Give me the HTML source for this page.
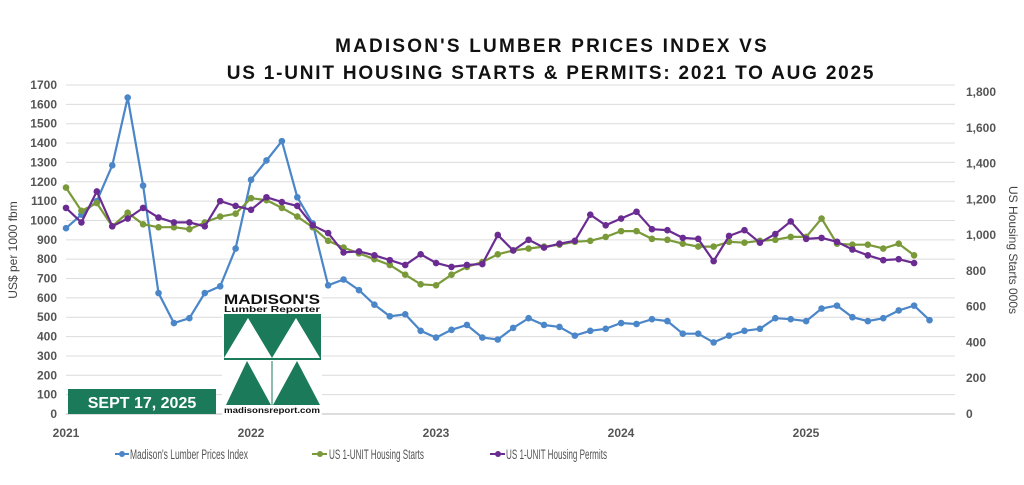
<!DOCTYPE html>
<html><head><meta charset="utf-8"><style>
body{margin:0;background:#fff;width:1024px;height:480px;overflow:hidden;font-family:"Liberation Sans",sans-serif}
</style></head><body>
<svg id="c" width="1024" height="480" xmlns="http://www.w3.org/2000/svg" font-family="Liberation Sans, sans-serif">
<text x="552" y="52" text-anchor="middle" font-size="19" font-weight="bold" letter-spacing="2.2" fill="#111">MADISON'S LUMBER PRICES INDEX VS</text>
<text x="551" y="79" text-anchor="middle" font-size="19" font-weight="bold" letter-spacing="1.8" fill="#111">US 1-UNIT HOUSING STARTS &amp; PERMITS: 2021 TO AUG 2025</text>
<g id="grid"></g>
<text transform="translate(17,250) rotate(-90)" text-anchor="middle" font-size="12" fill="#444">US$ per 1000 fbm</text>
<text transform="translate(1009,250) rotate(90)" text-anchor="middle" font-size="12" fill="#444">US Housing Starts 000s</text>
<g id="series"></g>
<!-- logo -->
<rect x="222" y="292" width="100" height="123" fill="#fff"/>
<text x="224" y="304" font-size="14" font-weight="bold" fill="#111" textLength="96" lengthAdjust="spacingAndGlyphs">MADISON'S</text>
<text x="224" y="312" font-size="8" font-weight="bold" fill="#111" textLength="96" lengthAdjust="spacingAndGlyphs">Lumber Reporter</text>
<rect x="224" y="314" width="97" height="46" fill="#1a7a5a"/>
<polygon points="224,358 248,318 272,358" fill="#fff"/>
<polygon points="272,358 296,318 320,358" fill="#fff"/>
<polygon points="226,405 247,361 271,405" fill="#1a7a5a"/>
<polygon points="273,405 297,361 320,405" fill="#1a7a5a"/>
<line x1="272" y1="361" x2="272" y2="405" stroke="#1a7a5a" stroke-width="1"/>
<text x="224" y="413" font-size="8" font-weight="bold" fill="#111" textLength="96" lengthAdjust="spacingAndGlyphs">madisonsreport.com</text>
<rect x="68" y="389" width="148" height="25" fill="#1a7a5a"/>
<text x="142" y="408" text-anchor="middle" font-size="16" font-weight="bold" fill="#fff">SEPT 17, 2025</text>
<g id="legend" font-size="13.5" fill="#555">
<line x1="115" y1="454" x2="129" y2="454" stroke="#4a86c8" stroke-width="2"/><circle cx="122" cy="454" r="3" fill="#4a86c8"/>
<text x="130" y="459" textLength="118" lengthAdjust="spacingAndGlyphs">Madison's Lumber Prices Index</text>
<line x1="312" y1="454" x2="327" y2="454" stroke="#7a9a3a" stroke-width="2"/><circle cx="320" cy="454" r="3" fill="#7a9a3a"/>
<text x="329" y="459" textLength="95" lengthAdjust="spacingAndGlyphs">US 1-UNIT Housing Starts</text>
<line x1="490" y1="454" x2="505" y2="454" stroke="#6a2c91" stroke-width="2"/><circle cx="498" cy="454" r="3" fill="#6a2c91"/>
<text x="506" y="459" textLength="101" lengthAdjust="spacingAndGlyphs">US 1-UNIT Housing Permits</text>
</g>
</svg>
<script>
var NS="http://www.w3.org/2000/svg";
function el(p,t,a,txt){var e=document.createElementNS(NS,t);for(var k in a)e.setAttribute(k,a[k]);if(txt!=null)e.textContent=txt;document.getElementById(p).appendChild(e);return e;}
var y0=414,ppu=(414-85)/1700;
function Y(v){return y0-v*ppu;}
for(var v=0;v<=1700;v+=100){
 if(v>0)el("grid","line",{x1:66,x2:955,y1:Y(v),y2:Y(v),stroke:"#dcdcdc","stroke-width":1});
 el("grid","text",{x:57,y:Y(v)+4,"text-anchor":"end","font-size":12,"font-weight":"bold",fill:"#555"},v);
}
el("grid","line",{x1:66,x2:955,y1:414,y2:414,stroke:"#bbb","stroke-width":1});
var rp=(414-92)/1800;
for(var r=0;r<=1800;r+=200){
 el("grid","text",{x:966,y:414-r*rp+4,"font-size":12,"font-weight":"bold",fill:"#555"},r==0?"0":r.toLocaleString("en-US"));
}
var yrs=["2021","2022","2023","2024","2025"];
for(var i=0;i<5;i++)el("grid","text",{x:66+i*185,y:437,"text-anchor":"middle","font-size":12,"font-weight":"bold",fill:"#555"},yrs[i]);
var blue=[960,1030,1100,1285,1635,1180,625,470,495,625,660,855,1210,1310,1410,1120,985,665,695,640,565,505,515,430,395,435,460,395,385,445,495,460,450,405,430,440,470,465,490,480,415,415,370,405,430,440,495,490,480,545,560,500,480,495,535,560,485];
var green=[1170,1050,1090,970,1040,980,965,965,955,990,1020,1035,1115,1105,1065,1020,965,895,860,830,800,770,720,670,665,720,760,785,825,845,855,865,875,890,895,915,945,945,905,900,880,865,865,890,885,895,900,915,915,1010,880,875,875,855,880,820];
var purp=[1065,990,1150,970,1010,1065,1015,990,990,970,1100,1075,1055,1120,1095,1075,975,935,835,840,820,795,770,825,780,760,770,775,925,845,900,860,880,895,1030,975,1010,1045,955,950,910,905,790,920,950,885,930,995,905,910,890,850,820,795,800,780];
function draw(d,c){var pts=d.map(function(v,i){return (66+i*15.42).toFixed(1)+","+Y(v).toFixed(1)}).join(" ");
 el("series","polyline",{points:pts,fill:"none",stroke:c,"stroke-width":2.2});
 d.forEach(function(v,i){el("series","circle",{cx:66+i*15.42,cy:Y(v),r:3.3,fill:c});});}
draw(blue,"#4a86c8");draw(green,"#7a9a3a");draw(purp,"#6a2c91");
</script>
</body></html>
